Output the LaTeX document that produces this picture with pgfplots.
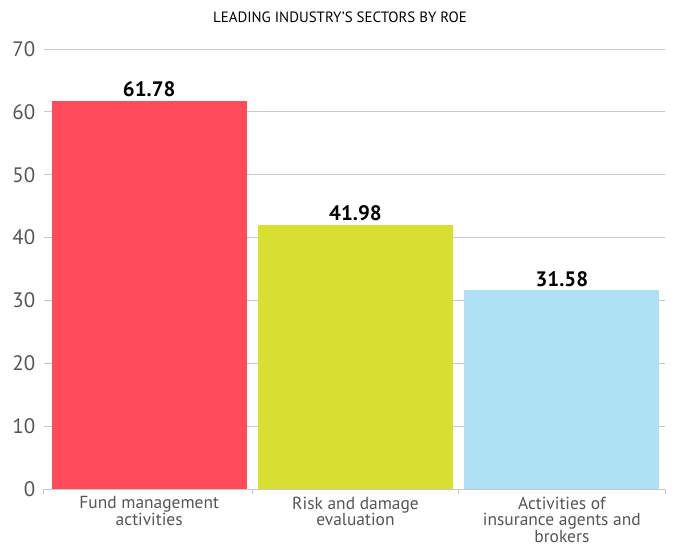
\documentclass[border=0pt]{standalone}
\usepackage{pgfplots}
\pgfplotsset{compat=1.18}
\usepackage{fontspec}
\setmainfont{PT Sans}

\definecolor{barred}{HTML}{FF4B5A}
\definecolor{baryellow}{HTML}{D8DF30}
\definecolor{barblue}{HTML}{ADE1F3}
\definecolor{gridgray}{HTML}{C8C8C8}
\definecolor{ticktext}{HTML}{555555}

\begin{document}
\begin{tikzpicture}[x=1bp,y=1bp]
\begin{axis}[
    at={(44bp,57bp)}, anchor=south west,
    scale only axis,
    width=621bp, height=440bp,
    xmin=-0.51, xmax=2.5,
    ymin=0, ymax=70,
    ytick={0,10,...,70},
    xtick={0,1,2},
    xticklabels={{Fund management\\activities},{Risk and damage\\evaluation},{Activities of\\insurance agents and\\brokers}},
    minor xtick={-0.51,0.5,1.5,2.5},
    major x tick style={draw=none},
    major y tick style={draw=none},
    minor tick length=5bp,
    tick align=outside,
    axis x line*=bottom,
    axis y line*=left,
    x axis line style={draw=gridgray, line width=1bp},
    y axis line style={draw=none},
    minor x tick style={draw=gridgray, line width=1bp},
    ymajorgrids,
    major grid style={draw=gridgray, line width=1bp},
    /pgf/number format/assume math mode=true,
    yticklabel style={font=\fontsize{21}{23}\selectfont, text=ticktext, xshift=-1bp},
    xticklabel style={font=\fontsize{17.5}{16.8}\selectfont, text=ticktext, align=center, anchor=north, yshift=0bp},
    ybar, bar width=0.944, bar shift=0pt,
    nodes near coords={\pgfmathprintnumber[fixed,precision=2,fixed zerofill]{\pgfplotspointmeta}},
    nodes near coords style={font=\fontsize{21}{23}\selectfont\bfseries, text=black, anchor=south, inner sep=4bp},
    clip=false,
]
\addplot[fill=barred, draw=none] coordinates {(0,61.78)};
\addplot[fill=baryellow, draw=none] coordinates {(1,41.98)};
\addplot[fill=barblue, draw=none] coordinates {(2,31.58)};
\end{axis}
\node[font=\fontsize{15}{17}\selectfont, anchor=center] at (340bp,529bp) {LEADING INDUSTRY'S SECTORS BY ROE};
\pgfresetboundingbox
\path[use as bounding box] (0,0) rectangle (678bp,546bp);
\end{tikzpicture}
\end{document}
